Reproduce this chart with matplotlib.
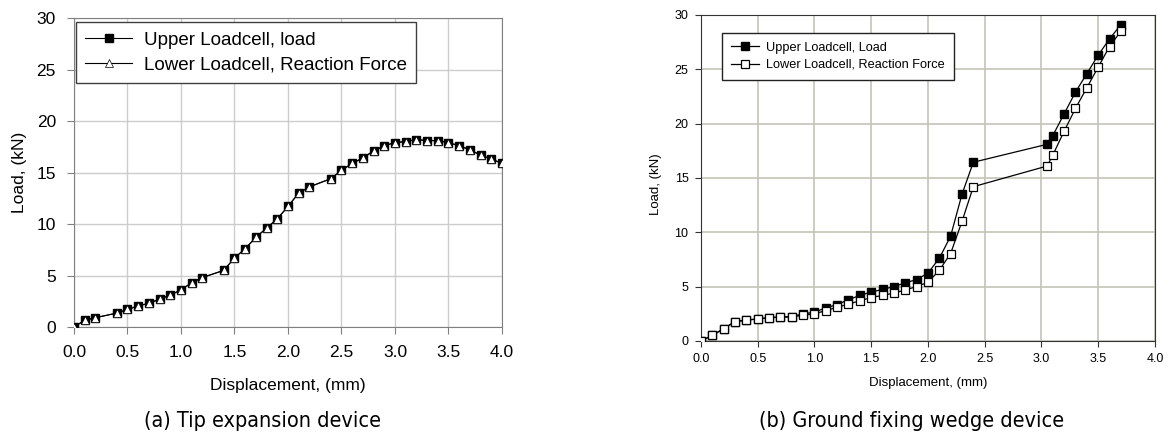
import matplotlib
matplotlib.use("Agg")
import matplotlib.pyplot as plt

# (a) Tip expansion device
disp_a = [0.0, 0.1, 0.2, 0.4, 0.5, 0.6, 0.7, 0.8, 0.9, 1.0, 1.1, 1.2, 1.4, 1.5,
          1.6, 1.7, 1.8, 1.9, 2.0, 2.1, 2.2, 2.4, 2.5, 2.6, 2.7, 2.8, 2.9, 3.0,
          3.1, 3.2, 3.3, 3.4, 3.5, 3.6, 3.7, 3.8, 3.9, 4.0]
upper_a = [0.0, 0.65, 0.9, 1.35, 1.7, 2.05, 2.3, 2.7, 3.1, 3.6, 4.3, 4.8, 5.5, 6.7,
           7.6, 8.7, 9.6, 10.5, 11.7, 13.0, 13.6, 14.4, 15.2, 15.9, 16.4, 17.1, 17.6, 17.9,
           18.0, 18.2, 18.1, 18.1, 17.9, 17.6, 17.2, 16.7, 16.3, 15.9]
lower_a = [0.0, 0.65, 0.9, 1.35, 1.7, 2.05, 2.3, 2.7, 3.1, 3.6, 4.3, 4.8, 5.5, 6.7,
           7.6, 8.7, 9.6, 10.5, 11.7, 13.0, 13.6, 14.4, 15.2, 15.9, 16.4, 17.1, 17.6, 17.9,
           18.0, 18.2, 18.1, 18.1, 17.9, 17.6, 17.2, 16.7, 16.3, 15.9]

# (b) Ground fixing wedge device
disp_b = [0.0, 0.1, 0.2, 0.3, 0.4, 0.5, 0.6, 0.7, 0.8, 0.9, 1.0, 1.1, 1.2, 1.3,
          1.4, 1.5, 1.6, 1.7, 1.8, 1.9, 2.0, 2.1, 2.2, 2.3, 2.4, 3.05, 3.1, 3.2,
          3.3, 3.4, 3.5, 3.6, 3.7]
upper_b = [0.0, 0.52, 1.13, 1.78, 1.93, 2.02, 2.14, 2.2, 2.25, 2.5, 2.65, 3.05, 3.35, 3.8,
           4.2, 4.5, 4.75, 5.0, 5.35, 5.65, 6.25, 7.6, 9.65, 13.5, 16.45, 18.1, 18.9, 20.9,
           22.9, 24.6, 26.3, 27.8, 29.1]
lower_b = [0.0, 0.52, 1.13, 1.78, 1.93, 2.02, 2.14, 2.2, 2.2, 2.39, 2.5, 2.8, 3.1, 3.4,
           3.7, 4.0, 4.2, 4.4, 4.7, 5.0, 5.4, 6.5, 8.05, 11.0, 14.2, 16.1, 17.1, 19.3,
           21.4, 23.3, 25.2, 27.1, 28.5]

xticks = [0.0, 0.5, 1.0, 1.5, 2.0, 2.5, 3.0, 3.5, 4.0]
yticks = [0, 5, 10, 15, 20, 25, 30]

plt.rcParams['font.family'] = ['Liberation Sans', 'DejaVu Sans']

fig = plt.figure(figsize=(11.7, 4.37), dpi=100)
fig.patch.set_facecolor('white')

# ---- left panel ----
ax1 = fig.add_axes([0.0632, 0.2517, 0.3658, 0.7071])
ax1.plot(disp_a, upper_a, color='black', lw=0.8, marker='s', ms=6,
         mfc='black', mec='black', label='Upper Loadcell, load', zorder=3)
ax1.plot(disp_a, lower_a, color='black', lw=0.8, marker='^', ms=5.5,
         mfc='white', mec='black', mew=0.5, label='Lower Loadcell, Reaction Force', zorder=4)
ax1.set_xlim(0, 4)
ax1.set_ylim(0, 30)
ax1.set_xticks(xticks)
ax1.set_yticks(yticks)
ax1.set_xticklabels([f'{t:.1f}' for t in xticks])
ax1.grid(True, color='#cccccc', lw=1)
ax1.set_axisbelow(True)
for s in ax1.spines.values():
    s.set_color('#808080')
ax1.tick_params(direction='out', length=5, color='#808080', labelsize=12.5, pad=8)
ax1.set_xlabel('Displacement, (mm)', fontsize=12.5)
ax1.set_ylabel('Load, (kN)', fontsize=12.5)
ax1.xaxis.set_label_coords(0.5, -0.165)
ax1.yaxis.set_label_coords(-0.11, 0.5)
leg1 = ax1.legend(loc='upper left', bbox_to_anchor=(0.005, 0.987), borderaxespad=0,
                  fontsize=13.5, fancybox=False, framealpha=1, edgecolor='#404040',
                  handlelength=2.5, handletextpad=0.6, labelspacing=0.4,
                  borderpad=0.5)
leg1.get_frame().set_linewidth(1.0)

# ---- right panel ----
ax2 = fig.add_axes([0.5991, 0.2197, 0.3880, 0.7460])
ax2.plot(disp_b, upper_b, color='black', lw=0.9, marker='s', ms=5.5,
         mfc='black', mec='black', label='Upper Loadcell, Load', zorder=3)
ax2.plot(disp_b, lower_b, color='black', lw=0.9, marker='s', ms=5.5,
         mfc='white', mec='black', mew=0.9, label='Lower Loadcell, Reaction Force', zorder=4)
ax2.set_xlim(0, 4)
ax2.set_ylim(0, 30)
ax2.set_xticks(xticks)
ax2.set_yticks(yticks)
ax2.set_xticklabels([f'{t:.1f}' for t in xticks])
ax2.grid(True, color='#c4c4b6', lw=1.2)
ax2.set_axisbelow(True)
for s in ax2.spines.values():
    s.set_color('#333333')
ax2.tick_params(direction='out', length=4, color='#333333', labelsize=9, pad=5)
ax2.set_xlabel('Displacement, (mm)', fontsize=9.5)
ax2.set_ylabel('Load, (kN)', fontsize=9.5)
ax2.xaxis.set_label_coords(0.5, -0.11)
ax2.yaxis.set_label_coords(-0.085, 0.48)
leg2 = ax2.legend(loc='upper left', bbox_to_anchor=(0.0456, 0.945), borderaxespad=0,
                  fontsize=9.2, fancybox=False, framealpha=1, edgecolor='#222222',
                  handlelength=2.2, handletextpad=0.6, labelspacing=0.4,
                  borderpad=0.7)
leg2.get_frame().set_linewidth(1.0)

# captions
fig.text(262 / 1170, 1 - 421 / 437, '(a) Tip expansion device', ha='center', va='center',
         fontsize=15.5, family='DejaVu Sans', stretch='condensed')
fig.text(912 / 1170, 1 - 421 / 437, '(b) Ground fixing wedge device', ha='center',
         va='center', fontsize=15.5, family='DejaVu Sans', stretch='condensed')

fig.savefig('out.png', dpi=100, facecolor='white')
